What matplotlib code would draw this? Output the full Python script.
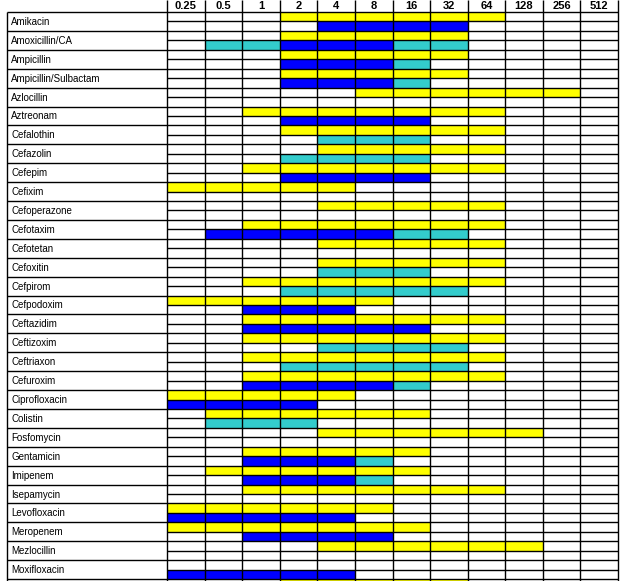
import matplotlib
matplotlib.use("Agg")
import matplotlib.pyplot as plt

plt.rcParams['font.family'] = ['Liberation Sans', 'DejaVu Sans']

conc_labels = ['0.25', '0.5', '1', '2', '4', '8', '16', '32', '64', '128', '256', '512']

antibiotics = ['Amikacin', 'Amoxicillin/CA', 'Ampicillin', 'Ampicillin/Sulbactam', 'Azlocillin',
               'Aztreonam', 'Cefalothin', 'Cefazolin', 'Cefepim', 'Cefixim',
               'Cefoperazone', 'Cefotaxim', 'Cefotetan', 'Cefoxitin', 'Cefpirom',
               'Cefpodoxim', 'Ceftazidim', 'Ceftizoxim', 'Ceftriaxon', 'Cefuroxim',
               'Ciprofloxacin', 'Colistin', 'Fosfomycin', 'Gentamicin', 'Imipenem',
               'Isepamycin', 'Levofloxacin', 'Meropenem', 'Mezlocillin', 'Moxifloxacin',
               '']  # last row is cut off at the bottom

# (first column, last column) of each bar, None = no bar
yellow = [(3, 8), (3, 7), (3, 7), (3, 7), (5, 10),
          (2, 8), (3, 8), (4, 8), (2, 8), (0, 4),
          (4, 8), (2, 8), (4, 8), (4, 8), (2, 8),
          (0, 5), (2, 8), (2, 8), (2, 8), (2, 8),
          (0, 4), (1, 6), (4, 9), (2, 6), (1, 6),
          (2, 8), (0, 5), (0, 6), (4, 9), None,
          (3, 7)]
blue = [(4, 7), (3, 5), (3, 5), (3, 5), None,
        (3, 6), None, None, (3, 6), None,
        None, (1, 5), None, None, None,
        (2, 4), (2, 6), None, None, (2, 5),
        (0, 3), None, None, (2, 4), (2, 4),
        None, (0, 4), (2, 5), None, (0, 4),
        None]
cyan = [None, [(1, 2), (6, 7)], (6, 6), (6, 6), None,
        None, (4, 6), (3, 6), None, None,
        None, (6, 7), None, (4, 6), (3, 7),
        None, None, (4, 7), (3, 7), (6, 6),
        None, (1, 3), None, (5, 5), (5, 5),
        None, None, None, None, None,
        None]

YELLOW = '#FFFF00'
BLUE = '#0000FF'
CYAN = '#33CCCC'

fig = plt.figure(figsize=(6.21, 5.81), dpi=100)
ax = fig.add_axes([0, 0, 1, 1])
ax.set_xlim(-4.444, 12.08)
ax.set_ylim(60.2, -1.27)
ax.axis('off')


def draw(spans, y, color):
    if spans is None:
        return
    if isinstance(spans, tuple):
        spans = [spans]
    for a, b in spans:
        ax.barh(y, b - a + 1, left=a, height=1, color=color, align='center',
                linewidth=0, zorder=1)


for i, name in enumerate(antibiotics):
    top = 2 * i
    draw(yellow[i], top + 0.5, YELLOW)
    draw(blue[i], top + 1.5, BLUE)
    draw(cyan[i], top + 1.5, CYAN)
    ax.text(-4.14, top + 1.05, name, ha='left', va='center', fontsize=7)

n_sub = 2 * len(antibiotics)
label_left = -4.26

# grid lines
for k in range(n_sub + 1):
    ax.hlines(k, 0, 12, color='black', lw=1.0, zorder=3)
    if k % 2 == 0:
        ax.hlines(k, label_left, 0, color='black', lw=1.0, zorder=3)
for c in range(13):
    ax.vlines(c, -1.27, n_sub, color='black', lw=1.0, zorder=3)
ax.vlines(label_left, 0, n_sub, color='black', lw=1.0, zorder=3)

for c, lab in enumerate(conc_labels):
    ax.text(c + 0.5, -0.62, lab, ha='center', va='center', fontsize=8, fontweight='bold')

fig.savefig('out.png', dpi=100)
